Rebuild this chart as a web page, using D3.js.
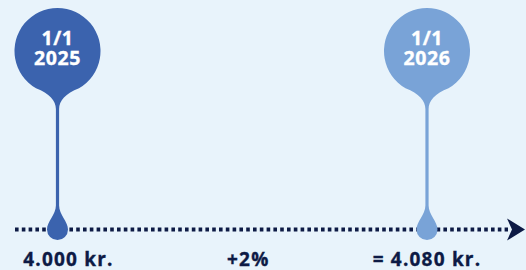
<!DOCTYPE html>
<html>
<head>
<meta charset="utf-8">
<script src="https://cdn.jsdelivr.net/npm/d3@7"></script>
<style>
  html, body { margin: 0; padding: 0; background: #e8f3fb; }
  #chart { position: relative; width: 526px; height: 270px; }
  svg { display: block; }
  .pin-text {
    position: absolute; width: 80px; text-align: center;
    font-family: 'Open Sans', sans-serif; font-weight: 700; font-size: 19.5px;
    line-height: 20px; letter-spacing: 0.6px; color: #fff;
    -webkit-text-stroke: 0.35px #fff;
  }
  .amount { font-family: 'Open Sans', sans-serif; font-weight: 700; fill: #0d1a45; stroke: #0d1a45; stroke-width: 0.35px; }
</style>
</head>
<body>
<div id="chart"></div>
<script>
'use strict';

// dates on the timeline
var DATES = ['1/1', '1/1'];
var YEARS = ['2025', '2026'];
// labels under the timeline: start value, change, end value
var AMOUNTS = ['4.000 kr.', '+2%', '= 4.080 kr.'];

var WIDTH = 526;
var HEIGHT = 270;
var PIN_COLOR = ['#3b63ae', '#79a3d7'];
var NAVY = '#0d1a45';

var HEAD_R = 43;
var HEAD_CY = 51;
var LINE_Y = 229.5;
var DROP_R = 10.5;

var chart = d3.select('#chart');
var svg = chart.append('svg')
  .attr('width', WIDTH)
  .attr('height', HEIGHT);

var x = d3.scalePoint()
  .domain(YEARS)
  .range([57.5, 427]);

// dotted timeline with arrow head
svg.append('line')
  .attr('x1', 15)
  .attr('x2', 508)
  .attr('y1', LINE_Y)
  .attr('y2', LINE_Y)
  .style('stroke', NAVY)
  .style('stroke-width', 4)
  .style('stroke-dasharray', '3.6 3.2');

svg.append('path')
  .attr('d', 'M507,' + (LINE_Y - 11) + 'L525,' + LINE_Y + 'L507,' + (LINE_Y + 11) + 'L512,' + LINE_Y + 'Z')
  .style('fill', NAVY);

// pin: round head, tapering neck, thin stem, drop at the bottom
function pinPath(cx) {
  var th = 30 * Math.PI / 180;
  var lx = cx - HEAD_R * Math.sin(th), rx = cx + HEAD_R * Math.sin(th);
  var jy = HEAD_CY + HEAD_R * Math.cos(th);
  var neckY = HEAD_CY + HEAD_R + 15;
  var sw = 1.6;
  var dropTop = LINE_Y - 24;
  return 'M' + lx + ',' + jy +
    'A' + HEAD_R + ',' + HEAD_R + ' 0 1 1 ' + rx + ',' + jy +
    'C' + (cx + 8) + ',' + (jy + 5) + ' ' + (cx + sw) + ',' + (neckY - 8) + ' ' + (cx + sw) + ',' + neckY +
    'L' + (cx + sw) + ',' + dropTop +
    'C' + (cx + sw) + ',' + (LINE_Y - 15) + ' ' + (cx + DROP_R) + ',' + (LINE_Y - 8) + ' ' + (cx + DROP_R) + ',' + LINE_Y +
    'A' + DROP_R + ',' + DROP_R + ' 0 0 1 ' + (cx - DROP_R) + ',' + LINE_Y +
    'C' + (cx - DROP_R) + ',' + (LINE_Y - 8) + ' ' + (cx - sw) + ',' + (LINE_Y - 15) + ' ' + (cx - sw) + ',' + dropTop +
    'L' + (cx - sw) + ',' + neckY +
    'C' + (cx - sw) + ',' + (neckY - 8) + ' ' + (cx - 8) + ',' + (jy + 5) + ' ' + lx + ',' + jy + 'Z';
}

svg.selectAll('path.pin')
  .data(YEARS)
  .enter()
  .append('path')
  .attr('class', 'pin')
  .attr('d', function(d) { return pinPath(x(d)); })
  .style('fill', function(d, i) { return PIN_COLOR[i]; });

// date and year, two tight lines inside the pin head
chart.selectAll('div.pin-text')
  .data(YEARS)
  .enter()
  .append('div')
  .attr('class', 'pin-text')
  .style('left', function(d) { return (x(d) - 40) + 'px'; })
  .style('top', '28px')
  .html(function(d, i) { return DATES[i] + '<br>' + d; });

// amounts: start under first pin, change in between, result under second pin
var amountX = [
  x(YEARS[0]) + 11,
  (x(YEARS[0]) + x(YEARS[1])) / 2 + 6,
  x(YEARS[1])
];

svg.selectAll('text.amount')
  .data(AMOUNTS)
  .enter()
  .append('text')
  .attr('class', 'amount')
  .attr('x', function(d, i) { return amountX[i]; })
  .attr('y', 265.5)
  .attr('text-anchor', 'middle')
  .style('font-size', '19px')
  .style('letter-spacing', '1.2px')
  .text(function(d) { return d; });
</script>
</body>
</html>
